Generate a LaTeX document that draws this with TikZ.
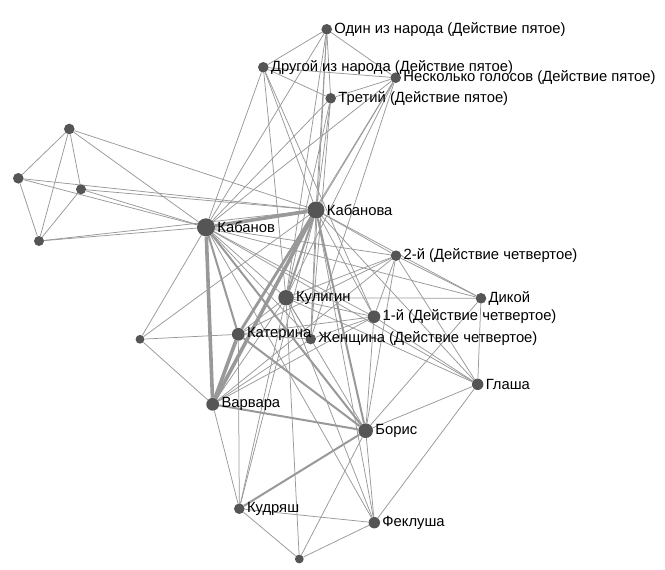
\documentclass[tikz,border=0pt]{standalone}
\usepackage{fontspec}
\setmainfont{Liberation Sans}
\pgfdeclarelayer{bg}
\pgfsetlayers{bg,main}
\definecolor{nodecol}{HTML}{555555}
\definecolor{edgecol}{HTML}{999999}
\begin{document}
\begin{tikzpicture}[x=1pt,y=-1pt,
  vtx/.style={circle,fill=nodecol,inner sep=0pt,minimum size=#1},
  vtx/.default=11pt,
  lbl/.style={anchor=west,inner sep=0pt,text=black,font=\fontsize{14.8}{17}\selectfont},
  ethin/.style={draw=edgecol,line width=0.75pt},
  emed/.style={draw=edgecol,line width=2pt},
  ethk/.style={draw=edgecol,line width=3.6pt}]
\useasboundingbox (0,0) rectangle (665,570);
% vertices
\node[vtx=10.6pt] (odin) at (326.7,29.3) {};
\node[vtx=10.6pt] (drug) at (263.3,67.3) {};
\node[vtx=10.6pt] (nesk) at (395.7,77.7) {};
\node[vtx=10.6pt] (tret) at (330.7,98.3) {};
\node[vtx=17pt] (kbnv) at (316,210) {};
\node[vtx=18pt] (kbn) at (206,227.3) {};
\node[vtx=10.6pt] (vt) at (396,255.7) {};
\node[vtx=15.4pt] (kul) at (286,297.7) {};
\node[vtx=10.6pt] (dik) at (481,298.3) {};
\node[vtx=12.6pt] (pv) at (374,316.7) {};
\node[vtx=12.8pt] (kat) at (238.3,334.3) {};
\node[vtx=10.6pt] (zhen) at (310.7,339) {};
\node[vtx=8.8pt] (left) at (140,339.3) {};
\node[vtx=11.4pt] (gla) at (477.7,384.3) {};
\node[vtx=12.8pt] (var) at (212.7,404.3) {};
\node[vtx=14.6pt] (bor) at (365.7,430.7) {};
\node[vtx=10.6pt] (kud) at (239.3,508.7) {};
\node[vtx=11.4pt] (fek) at (374.3,522.7) {};
\node[vtx=8.8pt] (bot) at (299.3,559) {};
\node[vtx=10.6pt] (a) at (69.3,129) {};
\node[vtx=10.6pt] (b) at (18.3,178.3) {};
\node[vtx=10pt] (c) at (81,189.3) {};
\node[vtx=10pt] (d) at (39,241) {};
% edges
\begin{pgfonlayer}{bg}
\fill[white] (0,0) rectangle (665,570);
\foreach \u/\v in {a/b,a/c,a/d,b/d,c/d,
  a/kbn,a/kbnv,b/kbn,b/kbnv,c/kbn,c/kbnv,d/kbn,d/kbnv,
  odin/drug,odin/nesk,odin/tret,drug/nesk,drug/tret,tret/nesk,
  odin/kbn,odin/kbnv,odin/kul,odin/zhen,
  drug/kbn,drug/kbnv,drug/kul,drug/pv,
  tret/kbn,tret/kbnv,tret/kul,tret/zhen,
  nesk/kbn,nesk/kbnv,nesk/kul,nesk/kat,nesk/zhen,
  kbnv/vt,kbnv/dik,kbnv/pv,kbnv/gla,kbnv/zhen,kbnv/kud,kbnv/fek,kbnv/left,
  kbn/kul,kbn/pv,kbn/vt,kbn/zhen,kbn/gla,kbn/dik,kbn/left,kbn/fek,
  left/kat,left/var,
  var/kul,var/pv,var/vt,var/zhen,var/kud,
  kat/kul,kat/pv,kat/zhen,kat/vt,kat/kud,
  bor/kul,bor/pv,bor/vt,bor/gla,bor/dik,bor/fek,bor/bot,
  kul/pv,kul/vt,kul/zhen,kul/dik,kul/gla,kul/kud,kul/bot,kul/fek,
  pv/vt,pv/gla,pv/zhen,vt/dik,vt/gla,dik/gla,gla/fek,
  kud/fek,kud/bot,fek/bot}
  \draw[ethin] (\u) -- (\v);
\foreach \u/\v in {kbnv/kul,kbnv/bor,kbn/kat,var/bor,kud/bor,kat/bor,kbn/bor}
  \draw[emed] (\u) -- (\v);
\foreach \u/\v in {kbn/kbnv,kbnv/var,kat/var,kbn/var}
  \draw[ethk] (\u) -- (\v);
\draw[draw=edgecol,line width=2.8pt] (kbnv) -- (kat);
\end{pgfonlayer}
% labels
\node[lbl] (odin-l) at ([xshift=2pt]odin.east) {Один из народа (Действие пятое)};
\node[lbl] (drug-l) at ([xshift=2pt]drug.east) {Другой из народа (Действие пятое)};
\node[lbl] (nesk-l) at ([xshift=2pt]nesk.east) {Несколько голосов (Действие пятое)};
\node[lbl] (tret-l) at ([xshift=2pt]tret.east) {Третий (Действие пятое)};
\node[lbl] (kbnv-l) at ([xshift=2pt]kbnv.east) {Кабанова};
\node[lbl] (kbn-l) at ([xshift=2pt]kbn.east) {Кабанов};
\node[lbl] (vt-l) at ([xshift=2pt]vt.east) {2-й (Действие четвертое)};
\node[lbl] (kul-l) at ([xshift=2pt]kul.east) {Кулигин};
\node[lbl] (dik-l) at ([xshift=2pt]dik.east) {Дикой};
\node[lbl] (pv-l) at ([xshift=2pt]pv.east) {1-й (Действие четвертое)};
\node[lbl] (kat-l) at ([xshift=2pt]kat.east) {Катерина};
\node[lbl] (zhen-l) at ([xshift=2pt]zhen.east) {Женщина (Действие четвертое)};
\node[lbl] (gla-l) at ([xshift=2pt]gla.east) {Глаша};
\node[lbl] (var-l) at ([xshift=2pt]var.east) {Варвара};
\node[lbl] (bor-l) at ([xshift=2pt]bor.east) {Борис};
\node[lbl] (kud-l) at ([xshift=2pt]kud.east) {Кудряш};
\node[lbl] (fek-l) at ([xshift=2pt]fek.east) {Феклуша};
\end{tikzpicture}
\end{document}
